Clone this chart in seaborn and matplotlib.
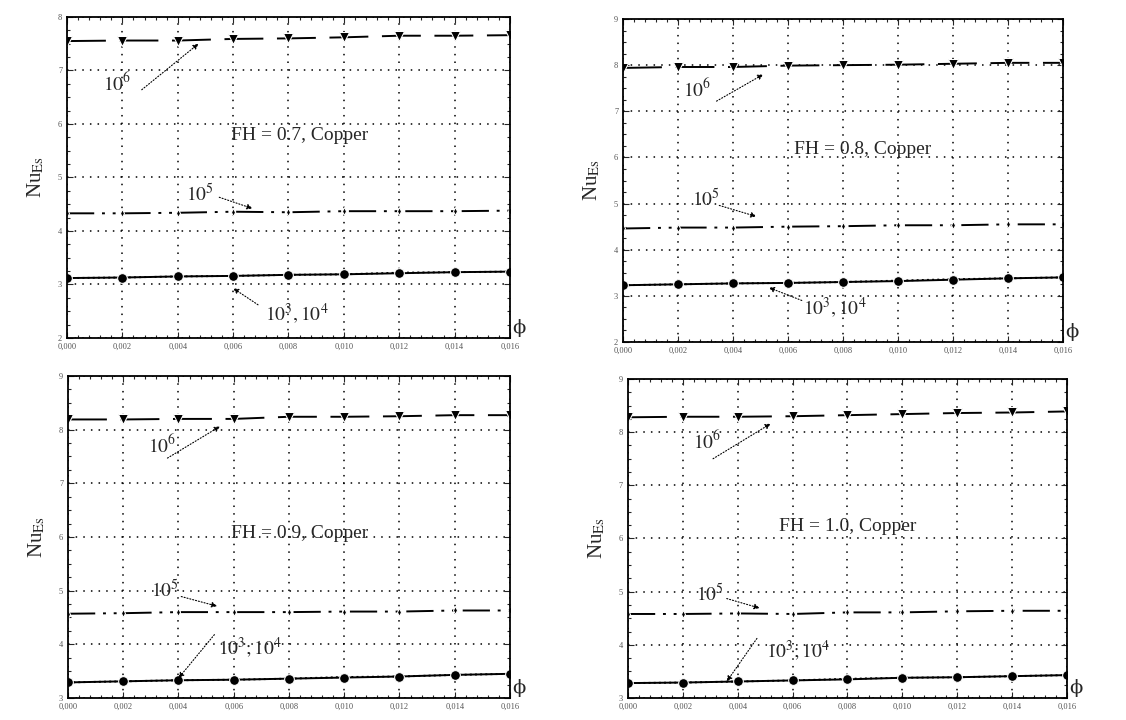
import numpy as np
import pandas as pd
import matplotlib
matplotlib.use("Agg")
import matplotlib.pyplot as plt
import seaborn as sns
from matplotlib.ticker import AutoMinorLocator, FuncFormatter, MultipleLocator

# volume fraction of nanoparticles
phi = [0.000, 0.002, 0.004, 0.006, 0.008, 0.010, 0.012, 0.014, 0.016]

# Nu values, one list per Rayleigh number and FH
nu_fh07_ra6 = [7.55, 7.56, 7.56, 7.59, 7.60, 7.62, 7.65, 7.65, 7.66]
nu_fh07_ra5 = [4.33, 4.33, 4.34, 4.36, 4.35, 4.37, 4.37, 4.37, 4.38]
nu_fh07_ra4 = [3.12, 3.13, 3.15, 3.16, 3.18, 3.19, 3.22, 3.23, 3.24]
nu_fh07_ra3 = [3.12, 3.13, 3.15, 3.16, 3.18, 3.19, 3.21, 3.23, 3.24]

nu_fh08_ra6 = [7.94, 7.96, 7.96, 7.99, 8.00, 8.01, 8.03, 8.05, 8.05]
nu_fh08_ra5 = [4.46, 4.48, 4.48, 4.50, 4.51, 4.53, 4.53, 4.55, 4.55]
nu_fh08_ra4 = [3.23, 3.25, 3.27, 3.28, 3.30, 3.33, 3.36, 3.38, 3.40]
nu_fh08_ra3 = [3.23, 3.25, 3.27, 3.28, 3.30, 3.32, 3.35, 3.38, 3.40]

nu_fh09_ra6 = [8.19, 8.19, 8.20, 8.20, 8.24, 8.24, 8.25, 8.27, 8.27]
nu_fh09_ra5 = [4.57, 4.58, 4.60, 4.60, 4.60, 4.61, 4.61, 4.63, 4.63]
nu_fh09_ra4 = [3.29, 3.31, 3.33, 3.34, 3.36, 3.39, 3.40, 3.43, 3.45]
nu_fh09_ra3 = [3.29, 3.31, 3.33, 3.34, 3.36, 3.38, 3.40, 3.43, 3.45]

nu_fh10_ra6 = [8.28, 8.29, 8.29, 8.30, 8.32, 8.34, 8.36, 8.37, 8.39]
nu_fh10_ra5 = [4.58, 4.58, 4.59, 4.58, 4.61, 4.61, 4.63, 4.64, 4.64]
nu_fh10_ra4 = [3.28, 3.29, 3.31, 3.33, 3.36, 3.38, 3.39, 3.41, 3.43]
nu_fh10_ra3 = [3.28, 3.29, 3.31, 3.33, 3.35, 3.38, 3.39, 3.41, 3.43]

panel_titles = ["FH = 0.7, Copper", "FH = 0.8, Copper", "FH = 0.9, Copper", "FH = 1.0, Copper"]
ra5_labels = ["$10^5$", "$10^5$", "$10^5$", "$10^5$"]
low_labels = ["$10^3,10^4$", "$10^3,10^4$", "$10^3;10^4$", "$10^3;10^4$"]

sns.set_style("ticks")
plt.rcParams["font.family"] = ["Liberation Serif", "DejaVu Serif"]
plt.rcParams["mathtext.fontset"] = "stix"

fig = plt.figure(figsize=(11.26, 7.2), dpi=100)

boxes = [
    [0.0595, 0.5306, 0.3934, 0.4458],
    [0.5533, 0.5250, 0.3908, 0.4486],
    [0.0604, 0.0306, 0.3925, 0.4472],
    [0.5577, 0.0306, 0.3899, 0.4430],
]
ylims = [(2, 8), (2, 9), (3, 9), (3, 9)]
series = [
    (nu_fh07_ra6, nu_fh07_ra5, nu_fh07_ra4, nu_fh07_ra3),
    (nu_fh08_ra6, nu_fh08_ra5, nu_fh08_ra4, nu_fh08_ra3),
    (nu_fh09_ra6, nu_fh09_ra5, nu_fh09_ra4, nu_fh09_ra3),
    (nu_fh10_ra6, nu_fh10_ra5, nu_fh10_ra4, nu_fh10_ra3),
]
# annotation placement (text xy, arrow start, arrow tip) per panel
ann6 = [((0.0018, 6.75), (0.0027, 6.64), (0.00475, 7.50)),
        ((0.0027, 7.48), (0.0034, 7.22), (0.0051, 7.80)),
        ((0.0034, 7.70), (0.0036, 7.47), (0.0055, 8.06)),
        ((0.0029, 7.82), (0.0031, 7.50), (0.0052, 8.16))]
ann5 = [((0.0048, 4.68), (0.0055, 4.63), (0.0067, 4.42)),
        ((0.0030, 5.10), (0.0035, 4.96), (0.00485, 4.72)),
        ((0.0035, 5.00), (0.0041, 4.89), (0.0054, 4.71)),
        ((0.0030, 4.95), (0.0036, 4.87), (0.0048, 4.69))]
ann3 = [((0.0083, 2.45), (0.0069, 2.62), (0.0060, 2.93)),
        ((0.0077, 2.74), (0.0065, 2.90), (0.0053, 3.18)),
        ((0.0066, 3.94), (0.0053, 4.18), (0.0040, 3.37)),
        ((0.0062, 3.89), (0.0047, 4.12), (0.0036, 3.31))]
title_pos = [(0.0084, 5.79), (0.0087, 6.17), (0.0084, 6.07), (0.0080, 6.22)]

comma = FuncFormatter(lambda v, p: f"{v:.3f}".replace(".", ","))

for i in range(4):
    ax = fig.add_axes(boxes[i])
    ra6, ra5, ra4, ra3 = series[i]
    sns.lineplot(x=phi, y=ra6, ax=ax, color="black", lw=1.4,
                 linestyle=(0, (20, 7)), marker="v", markersize=7)
    sns.lineplot(x=phi, y=ra5, ax=ax, color="black", lw=1.4,
                 linestyle=(0, (14, 4, 1.5, 4, 1.5, 4)), marker="d", markersize=4)
    sns.lineplot(x=phi, y=ra4, ax=ax, color="black", lw=1.4,
                 linestyle=":", marker="s", markersize=6)
    sns.lineplot(x=phi, y=ra3, ax=ax, color="black", lw=1.4,
                 linestyle="-", marker="o", markersize=7)

    ax.set_xlim(0, 0.016)
    ax.set_ylim(*ylims[i])
    ax.xaxis.set_major_locator(MultipleLocator(0.002))
    ax.yaxis.set_major_locator(MultipleLocator(1))
    ax.xaxis.set_minor_locator(AutoMinorLocator(5))
    ax.yaxis.set_minor_locator(AutoMinorLocator(4))
    ax.xaxis.set_major_formatter(comma)
    ax.grid(True, which="major", color="black", linestyle=(0, (1, 4)), lw=1.1)
    ax.tick_params(which="both", direction="in", top=True, right=True,
                   labelsize=6, labelcolor="#555555", length=4, width=0.8)
    ax.tick_params(which="minor", length=2)
    for sp in ax.spines.values():
        sp.set_linewidth(1.3)
        sp.set_color("black")

    ax.set_xlabel("")
    ax.set_ylabel("Nu$_{\\rm Es}$", fontsize=15, labelpad=8)

    ax.text(*title_pos[i], panel_titles[i], fontsize=14, ha="center", va="center")
    ax.text(1.005, 0.03, "ϕ", transform=ax.transAxes, fontsize=14,
            ha="left", va="center", family=["DejaVu Serif"])

    arrow = dict(arrowstyle="-|>", color="black", lw=0.8, linestyle=":",
                 mutation_scale=8, shrinkA=0, shrinkB=0)
    for (txy, a0, a1), lab in zip([ann6[i], ann5[i], ann3[i]],
                                  ["$10^6$", ra5_labels[i], low_labels[i]]):
        ax.text(*txy, lab, fontsize=14, ha="center", va="center")
        ax.annotate("", xy=a1, xytext=a0, arrowprops=arrow)

fig.savefig("out.png", dpi=100)
